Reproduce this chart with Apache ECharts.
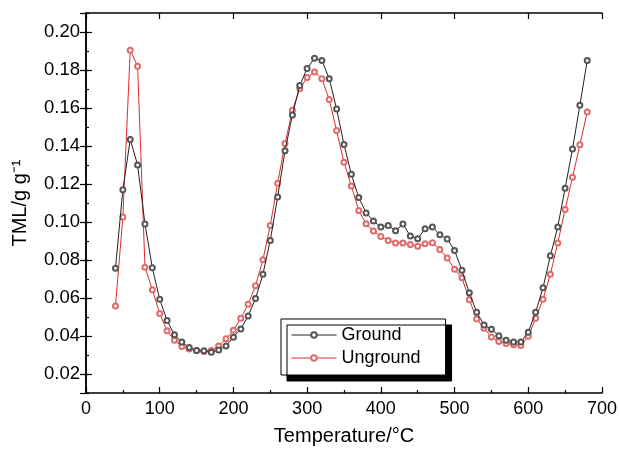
<!DOCTYPE html>
<html>
<head>
<meta charset="utf-8">
<script src="https://cdn.jsdelivr.net/npm/echarts@6/dist/echarts.min.js"></script>
<style>html,body{margin:0;padding:0;background:#fff;}#c{width:620px;height:451px;}</style>
</head>
<body>
<div id="c"></div>
<script>
// Temperatures (°C)
const temperature = [40,50,60,70,80,90,100,110,120,130,140,150,160,170,180,190,200,210,220,230,240,250,260,270,280,290,300,310,320,330,340,350,360,370,380,390,400,410,420,430,440,450,460,470,480,490,500,510,520,530,540,550,560,570,580,590,600,610,620,630,640,650,660,670,680];
// TML values (g g^-1)
const ground = [0.0757,0.117,0.1434,0.130,0.099,0.0759,0.0593,0.0481,0.0406,0.0368,0.0340,0.0324,0.0322,0.0314,0.0326,0.0348,0.0394,0.0437,0.0505,0.0598,0.0725,0.0903,0.1131,0.1375,0.1563,0.1719,0.1808,0.1862,0.1850,0.1754,0.1595,0.1408,0.1251,0.1129,0.1048,0.1005,0.0974,0.0982,0.0954,0.0989,0.0926,0.0912,0.0965,0.0974,0.0933,0.0911,0.0850,0.0746,0.0628,0.0525,0.0458,0.0436,0.0401,0.0377,0.0369,0.0368,0.0420,0.0525,0.0654,0.0822,0.0974,0.1178,0.1384,0.1614,0.1850];
const unground = [0.0558,0.1026,0.1904,0.1820,0.0762,0.0644,0.0518,0.0427,0.0377,0.0345,0.0331,0.0324,0.0319,0.0324,0.0348,0.0385,0.0430,0.0493,0.0567,0.0665,0.0801,0.0982,0.1204,0.1413,0.1588,0.1701,0.1761,0.1790,0.1754,0.1645,0.1481,0.1314,0.1190,0.1060,0.0991,0.0953,0.0924,0.0903,0.0890,0.0890,0.0881,0.0872,0.0886,0.0891,0.0855,0.0811,0.0751,0.0706,0.0591,0.0490,0.0441,0.0395,0.0371,0.0361,0.0354,0.0350,0.0399,0.0493,0.0594,0.0725,0.0890,0.1066,0.1235,0.1406,0.1579];
const seriesNames = ['Ground','Unground'];

const FONT = 'Liberation Sans, Arial, sans-serif';
const axisLineStyle = {color:'#000', width:1.5};
const chart = echarts.init(document.getElementById('c'), null, {renderer:'canvas'});
const pair = (ys) => temperature.map((t,i)=>[t, ys[i]]);

chart.setOption({
  animation:false,
  backgroundColor:'#fff',
  grid:{left:86, right:17, top:13, bottom:56, containLabel:false},
  legend:{
    orient:'vertical', left:281, top:319,
    data:seriesNames,
    itemWidth:45, itemHeight:7, itemGap:5,
    padding:[7,25,8,10],
    lineStyle:{width:1},
    backgroundColor:'#fff', borderColor:'#000', borderWidth:1,
    shadowColor:'#000', shadowBlur:0, shadowOffsetX:6, shadowOffsetY:6,
    textStyle:{fontFamily:FONT, fontSize:18, color:'#000'}
  },
  xAxis:[
    {type:'value', position:'bottom', min:0, max:700, interval:100,
     name:'Temperature/°C', nameLocation:'middle', nameGap:33,
     nameTextStyle:{fontFamily:FONT, fontSize:20, color:'#000'},
     axisLine:{show:true, lineStyle:axisLineStyle},
     axisTick:{show:true, inside:true, length:6, lineStyle:{color:'#000', width:1.2}},
     minorTick:{show:true, splitNumber:2, length:3, lineStyle:{color:'#000', width:1.2}},
     axisLabel:{fontFamily:FONT, fontSize:18, color:'#000', margin:7},
     splitLine:{show:false}},
    {type:'value', position:'top', min:0, max:700, interval:100,
     axisLine:{show:true, lineStyle:axisLineStyle},
     axisTick:{show:true, inside:true, length:6, lineStyle:{color:'#000', width:1.2}},
     axisLabel:{show:false}, splitLine:{show:false}}
  ],
  yAxis:[
    {type:'value', position:'left', min:0.01, max:0.21, splitNumber:10,
     name:'TML/g g\u207B\u00B9', nameLocation:'middle', nameGap:56,
     nameTextStyle:{fontFamily:FONT, fontSize:20, color:'#000'},
     axisLine:{show:true, lineStyle:axisLineStyle},
     axisTick:{show:true, inside:true, length:6, lineStyle:{color:'#000', width:1.2}},
     axisLabel:{fontFamily:FONT, fontSize:18.5, color:'#000', margin:6, showMinLabel:false, showMaxLabel:false,
       formatter:(v)=>{const k=Math.round(v*100); return (k%2===0)? v.toFixed(2):'';}},
     splitLine:{show:false}},
    {type:'value', position:'right', min:0.01, max:0.21, splitNumber:10,
     axisLine:{show:true, lineStyle:axisLineStyle},
     axisTick:{show:true, inside:true, length:6, lineStyle:{color:'#000', width:1.2}},
     axisLabel:{show:false}, splitLine:{show:false}},
    {type:'value', position:'left', min:0.01, max:0.21, interval:0.01,
     axisLine:{show:false},
     axisTick:{show:true, inside:true, length:3, lineStyle:{color:'#000', width:1.2}},
     axisLabel:{show:false}, splitLine:{show:false}}
  ],
  series:[
    {name:seriesNames[0], type:'line', xAxisIndex:0, yAxisIndex:0, data:pair(ground),
     symbol:'emptyCircle', symbolSize:5, z:3,
     lineStyle:{color:'#222', width:1},
     itemStyle:{color:'#555', borderColor:'#555', borderWidth:1}},
    {name:seriesNames[1], type:'line', xAxisIndex:0, yAxisIndex:0, data:pair(unground),
     symbol:'emptyCircle', symbolSize:5, z:2,
     lineStyle:{color:'#e02a2a', width:1},
     itemStyle:{color:'#e06a6a', borderColor:'#e06a6a', borderWidth:1}}
  ]
});
</script>
</body>
</html>
